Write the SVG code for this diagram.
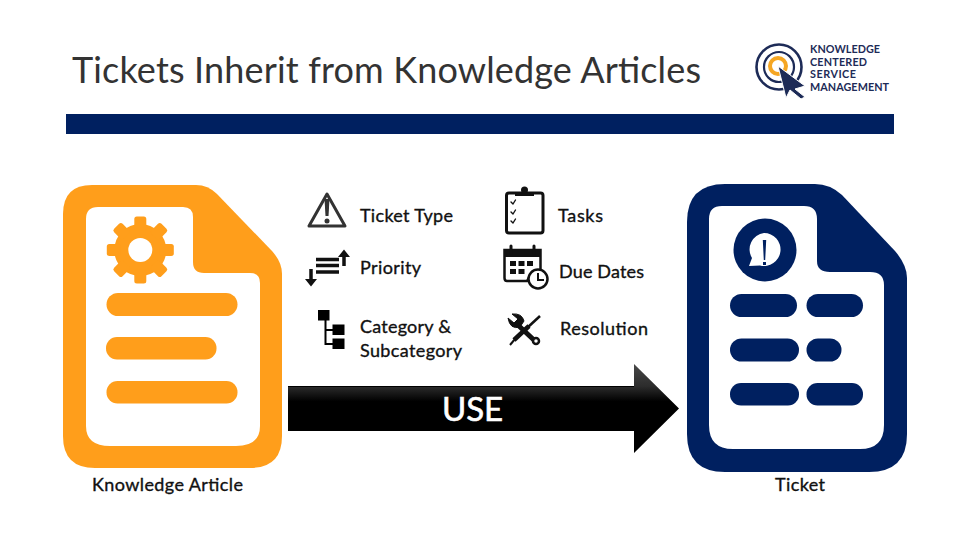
<svg xmlns="http://www.w3.org/2000/svg" width="960" height="540" viewBox="0 0 960 540">
<style>
text{font-family:"Lato","Open Sans","Liberation Sans",sans-serif}
.lb{font-size:18px;fill:#111;stroke:#111;stroke-width:.35px}
.or{fill:#FF9E1B}.nv{fill:#002060}.wh{fill:#fff}
.logo{font-size:10.8px;font-weight:700;fill:#1d2b57}
.ln{fill:none;stroke:#111;stroke-linecap:round;stroke-linejoin:round}
</style>
<defs>
<linearGradient id="g" x1="0" y1="0" x2="0" y2="1"><stop offset="0" stop-color="#484848"/><stop offset=".25" stop-color="#2c2c2c"/><stop offset=".42" stop-color="#000"/><stop offset="1" stop-color="#000"/></linearGradient>
<rect id="tooth" x="-6" y="-33.500" width="12" height="14" rx="2.500"/>
</defs>
<rect width="960" height="540" fill="#fff"/>
<text x="72" y="83" font-size="36" fill="#333" id="title" textLength="629" lengthAdjust="spacing">Tickets Inherit from Knowledge Articles</text>
<rect x="66" y="114" width="828" height="20" class="nv"/>
<g id="logo">
<circle cx="779" cy="67" r="22.500" fill="none" stroke="#1d2b57" stroke-width="2.600"/>
<circle cx="779" cy="67" r="15" fill="none" stroke="#1d2b57" stroke-width="2.200"/>
<circle cx="778" cy="66" r="8" fill="none" stroke="#F5A623" stroke-width="4"/>
<path d="M778 66L805 86L795 89L805 97 L801 99L790 90L786 98Z" fill="#1d2b57" stroke="#fff" stroke-width="1"/>
<text class="logo" x="810" y="53" textLength="70">KNOWLEDGE</text>
<text class="logo" x="810" y="66" textLength="57">CENTERED</text>
<text class="logo" x="810" y="78" textLength="46">SERVICE</text>
<text class="logo" x="810" y="91" textLength="79">MANAGEMENT</text>
</g>
<g id="knowledge-article">
<path class="or" d="M92 185H196Q208 185 217 194L272 251Q282 262 282 274V436Q282 468 250 468H95Q63 468 63 436V214Q63 185 92 185Z"/>
<path class="wh" d="M98 207H183Q193 207 193 217V262Q193 273 204 273H250Q260 273 260 283V426Q260 446 236 446H110Q86 446 86 426V219Q86 207 98 207Z"/>
<g class="or" transform="translate(140.300 250)">
<circle r="26"/>
<use href="#tooth"/><use href="#tooth" transform="rotate(45)"/><use href="#tooth" transform="rotate(90)"/><use href="#tooth" transform="rotate(135)"/><use href="#tooth" transform="rotate(180)"/><use href="#tooth" transform="rotate(225)"/><use href="#tooth" transform="rotate(270)"/><use href="#tooth" transform="rotate(315)"/>
<circle r="12" class="wh"/>
</g>
<rect class="or" x="106.500" y="293" width="131" height="23" rx="11.500"/>
<rect class="or" x="106" y="337" width="110.500" height="22.500" rx="11"/>
<rect class="or" x="106.500" y="381" width="131" height="22.500" rx="11"/>
<text class="lb" x="92" y="491" textLength="151">Knowledge Article</text>
</g>
<g id="ticket">
<path class="nv" d="M725 184H815Q830 184 842 195L895 251Q907 265 907 278V434Q907 472 869 472H725Q687 472 687 434V222Q687 184 725 184Z"/>
<path class="wh" d="M722 206H804Q817 206 817 219V261Q817 272 830 272H870Q884 272 884 285V425Q884 449 860 449H733Q709 449 709 425V219Q709 206 722 206Z"/>
<circle class="nv" cx="765" cy="250" r="31.500"/>
<path class="wh" d="M764 233A16.500 16.500 0 1 1 760 265.500L749 266L752 258A16.500 16.500 0 0 1 764 233Z"/>
<path class="nv" d="M762.800 240H766.200L765.200 260H763.800ZM763 262H766V265H763Z"/>
<rect class="nv" x="730" y="294" width="67" height="23" rx="11.500"/>
<rect class="nv" x="806.500" y="294" width="56.500" height="23" rx="11.500"/>
<rect class="nv" x="730" y="338.500" width="69" height="23" rx="11.500"/>
<rect class="nv" x="806.500" y="338.500" width="35" height="23" rx="11.500"/>
<rect class="nv" x="730" y="383" width="69" height="22.500" rx="11"/>
<rect class="nv" x="806.500" y="383" width="56.500" height="22.500" rx="11"/>
<text class="lb" x="775" y="491" textLength="50">Ticket</text>
</g>
<g id="ticket-type">
<path d="M327 194L345 226H309Z" fill="none" stroke="#333" stroke-width="3" stroke-linejoin="round"/>
<path d="M324.500 199H329.500L328.500 216H325.500Z" fill="#333"/><circle cx="327" cy="221" r="2.500" fill="#333"/>
<text class="lb" x="360" y="222" textLength="93">Ticket Type</text>
</g>
<g id="priority">
<path d="M316 259.500H339M316 265.500H339M316 272H339" stroke="#111" stroke-width="3.400"/>
<path d="M344 266V255M311 269V280" stroke="#111" stroke-width="3.500"/>
<path d="M338 257L344 249.500L350 257ZM305 279L311 286.500L317 279Z" fill="#111"/>
<text class="lb" x="360" y="274" textLength="61">Priority</text>
</g>
<g id="category">
<rect x="318" y="310" width="11.500" height="10.500" fill="#000"/><rect x="332.500" y="324.500" width="12" height="10.500" fill="#000"/><rect x="332.500" y="338.500" width="12" height="10.500" fill="#000"/>
<path d="M325.500 320V344H333M325.500 330H333" fill="none" stroke="#000" stroke-width="2"/>
<text class="lb" x="360" y="333" textLength="91">Category &amp;</text>
<text class="lb" x="360" y="357" textLength="102">Subcategory</text>
</g>
<g id="tasks">
<rect x="506.500" y="193" width="36.500" height="40" rx="2.500" fill="none" stroke="#111" stroke-width="3"/>
<path d="M515 192H534V196H515Z" fill="#111"/><circle cx="524.500" cy="190" r="3.500" fill="#111"/>
<path class="ln" stroke-width="1.400" d="M511 202L513 204L515.500 200M511 212L513 214L515.500 210M511 221L513 223L515.500 219"/>
<text class="lb" x="558" y="222" textLength="45">Tasks</text>
</g>
<g id="due-dates">
<path d="M504.500 250H540.500V272H532L527 281H507Q504.500 281 504.500 278Z" fill="none" stroke="#111" stroke-width="2.500"/>
<rect x="504" y="250" width="37" height="7" fill="#111"/>
<path d="M511 246V253M534 246V253" stroke="#111" stroke-width="3" stroke-linecap="round"/>
<path d="M510 261h6v5h-6zM518.500 261h6v5h-6zM527 261h6v5h-6zM510 269h6v5h-6zM518.500 269h6v5h-6z" fill="#111"/>
<circle cx="538" cy="279" r="9.500" fill="#fff" stroke="#111" stroke-width="2.500"/>
<path d="M538 273V280H544" fill="none" stroke="#111" stroke-width="2"/>
<text class="lb" x="559" y="278" textLength="85">Due Dates</text>
</g>
<g id="resolution">
<path class="ln" stroke-width="5" d="M519 326L535 341"/>
<path d="M508 318L514 323L518 319L512 314Q522 313 524 321L520 327Q510 330 508 318Z" fill="#111" stroke="#111"/>
<circle cx="536" cy="341" r="3" fill="#fff" stroke="#111" stroke-width="2.500"/>
<path d="M540 316L527 328" stroke="#fff" stroke-width="5"/><path d="M540 316L527 328" stroke="#111" stroke-width="2.500"/><path d="M529 326L514 340" stroke="#111" stroke-width="4.500"/><path d="M515 339L510 345" stroke="#111" stroke-width="2"/>
<text class="lb" x="560" y="335" textLength="88">Resolution</text>
</g>
<g id="connectors">
<path d="M288 386.500H634V364L679 408.500L634 453V431H288Z" fill="url(#g)"/>
<path d="M288 386.500H634" stroke="#000" stroke-width="1"/>
<text x="442" y="421" font-size="33" fill="#fff" stroke="#fff" stroke-width=".6" textLength="61">USE</text>
</g>
</svg>
